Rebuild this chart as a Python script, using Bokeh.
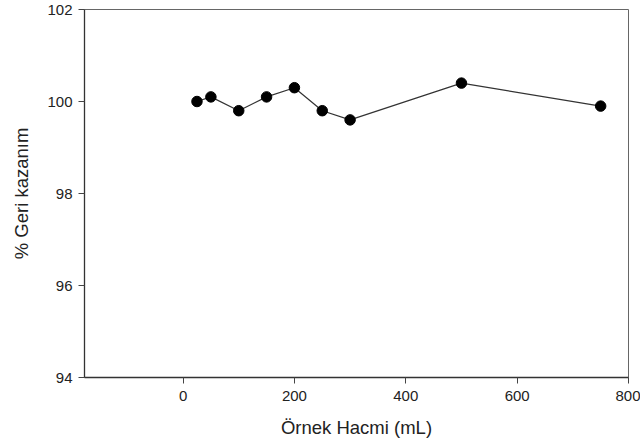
from bokeh.plotting import figure
from bokeh.embed import file_html
from bokeh.resources import INLINE
from bokeh.models import FixedTicker, Range1d

volume_ml = [25, 50, 100, 150, 200, 250, 300, 500, 750]
recovery_pct = [100.0, 100.1, 99.8, 100.1, 100.3, 99.8, 99.6, 100.4, 99.9]
x_ticks = [0, 200, 400, 600, 800]
y_ticks = [94, 96, 98, 100, 102]

FONT = "Liberation Sans"

p = figure(width=640, height=444, output_backend="svg", toolbar_location=None,
           x_range=Range1d(-177, 800), y_range=Range1d(94, 102),
           min_border_left=84, min_border_right=12, min_border_top=9, min_border_bottom=67)

p.line(volume_ml, recovery_pct, line_color="#333333", line_width=1.2)
p.scatter(volume_ml, recovery_pct, size=10.5, fill_color="black", line_color="black")

p.grid.visible = False
p.outline_line_color = "#666666"
p.outline_line_width = 1
p.background_fill_color = "white"
p.border_fill_color = "white"

p.xaxis.ticker = FixedTicker(ticks=x_ticks)
p.yaxis.ticker = FixedTicker(ticks=y_ticks)

for ax in (p.xaxis[0], p.yaxis[0]):
    ax.axis_line_color = "#333333"
    ax.axis_line_width = 1.3
    ax.major_tick_line_color = "#444444"
    ax.major_tick_in = 0
    ax.major_tick_out = 6
    ax.minor_tick_line_color = None
    ax.major_label_text_font = FONT
    ax.major_label_text_font_size = "15px"
    ax.major_label_text_color = "#222222"
    ax.axis_label_text_font = FONT
    ax.axis_label_text_font_size = "18.5px"
    ax.axis_label_text_font_style = "normal"
    ax.axis_label_text_color = "#222222"

p.xaxis.axis_label = "Örnek Hacmi (mL)"
p.yaxis.axis_label = "% Geri kazanım"
p.xaxis.major_label_standoff = 7
p.yaxis.major_label_standoff = 6
p.xaxis.axis_label_standoff = 13
p.yaxis.axis_label_standoff = 12

open("out.html", "w").write(file_html(p, INLINE))
